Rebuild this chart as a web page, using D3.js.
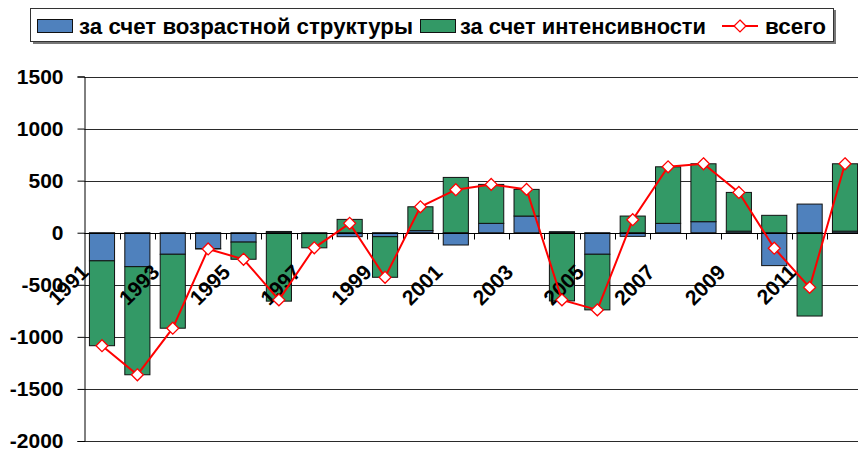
<!DOCTYPE html>
<html>
<head>
<meta charset="utf-8">
<script src="https://cdn.jsdelivr.net/npm/d3@7"></script>
<style>
body { margin: 0; background: #fff; }
text { font-family: "Liberation Sans", Arial, sans-serif; font-weight: bold; fill: #000; }
</style>
</head>
<body>
<svg id="chart" width="858" height="452"></svg>
<script>
var years = ["1991","1992","1993","1994","1995","1996","1997","1998","1999","2000","2001",
             "2002","2003","2004","2005","2006","2007","2008","2009","2010","2011","2012"];
// за счет возрастной структуры
var ageStruct = [-270, -326, -207, -153, -90, 12, -8, -38, -38, 20, -118,
                 90, 160, 10, -207, -35, 90, 106, 15, -316, 275, 15];
// за счет интенсивности
var intensity = [-815, -1038, -710, -3, -165, -657, -137, 128, -390, 229, 531,
                 374, 256, -655, -534, 160, 543, 556, 372, 167, -800, 647];
// всего
var total = [-1085, -1364, -917, -156, -255, -645, -145, 90, -428, 249, 413,
             464, 416, -645, -741, 125, 633, 662, 387, -149, -525, 662];
var yTicks = [-2000, -1500, -1000, -500, 0, 500, 1000, 1500];
var labelYears = ["1991","1993","1995","1997","1999","2001","2003","2005","2007","2009","2011"];

var seriesNames = ["за счет возрастной структуры", "за счет интенсивности", "всего"];
var colors = ["#4F81BD", "#339966", "#FF0000"];

var svg = d3.select("#chart");
var plotLeft = 84.3, plotRight = 862.7, plotTop = 76.5, plotBottom = 441;

var x = d3.scaleBand().domain(years).range([plotLeft, plotRight]).paddingInner(0.29).paddingOuter(0.145);
var y = d3.scaleLinear().domain([-2000, 1500]).range([plotBottom, plotTop]);

// gridlines
svg.append("g").selectAll("line").data(yTicks).enter().append("line")
    .attr("x1", plotLeft).attr("x2", 858)
    .attr("y1", function (d) { return Math.round(y(d)) + 0.5; })
    .attr("y2", function (d) { return Math.round(y(d)) + 0.5; })
    .style("stroke", "#2a2a2a").style("stroke-width", 1);

// y axis
var yAxis = svg.append("g").attr("transform", "translate(" + (Math.round(plotLeft) + 0.5) + ",0)")
    .call(d3.axisLeft(y).tickValues(yTicks).tickSize(7).tickPadding(14)
        .tickFormat(function (d) { return String(d); }));
yAxis.select(".domain").style("stroke", "#000");
yAxis.selectAll(".tick line").style("stroke", "#000");
yAxis.selectAll("text").style("font-size", "21px").style("font-family", "Liberation Sans, Arial, sans-serif")
    .style("font-weight", "bold").attr("fill", "#000");

// stacked bars
var rows = years.map(function (yr, i) { return { year: yr, a: ageStruct[i], b: intensity[i] }; });
var stack = d3.stack().keys(["a", "b"]).offset(d3.stackOffsetDiverging);
var layers = stack(rows);

svg.append("g").selectAll("g").data(layers).enter().append("g")
    .style("fill", function (d, i) { return colors[i]; })
    .selectAll("rect").data(function (d) { return d; }).enter().append("rect")
    .attr("x", function (d) { return x(d.data.year); })
    .attr("width", x.bandwidth())
    .attr("y", function (d) { return y(Math.max(d[0], d[1])); })
    .attr("height", function (d) { return Math.abs(y(d[0]) - y(d[1])); })
    .style("stroke", "#111").style("stroke-width", 1);

// x axis at zero
var y0 = Math.round(y(0)) + 0.5;
svg.append("line").attr("x1", plotLeft).attr("x2", 858).attr("y1", y0).attr("y2", y0)
    .style("stroke", "#000");
var step = x.step();
svg.append("g").selectAll("line").data(d3.range(1, years.length)).enter().append("line")
    .attr("x1", function (i) { return Math.round(plotLeft + i * step) + 0.5; })
    .attr("x2", function (i) { return Math.round(plotLeft + i * step) + 0.5; })
    .attr("y1", y0).attr("y2", y0 + 6)
    .style("stroke", "#000");

svg.append("g").selectAll("text").data(labelYears).enter().append("text")
    .attr("transform", function (d) {
        var cx = x(d) + x.bandwidth() / 2;
        return "translate(" + (cx - 12) + "," + (y0 + 40) + ") rotate(-45)";
    })
    .attr("text-anchor", "end")
    .style("font-size", "21px")
    .text(function (d) { return d; });

// total line
var line = d3.line()
    .x(function (d, i) { return x(years[i]) + x.bandwidth() / 2; })
    .y(function (d) { return y(d); });
svg.append("path").datum(total).attr("d", line)
    .style("fill", "none").style("stroke", colors[2]).style("stroke-width", 2);

var diamond = d3.symbol().type(d3.symbolDiamond2).size(90);
svg.append("g").selectAll("path").data(total).enter().append("path")
    .attr("d", diamond)
    .attr("transform", function (d, i) {
        return "translate(" + (x(years[i]) + x.bandwidth() / 2) + "," + y(d) + ")";
    })
    .style("fill", "#fff").style("stroke", colors[2]).style("stroke-width", 1.3);

// legend
var lg = svg.append("g");
lg.append("rect").attr("x", 33).attr("y", 10).attr("width", 803).attr("height", 34).style("fill", "#777");
lg.append("rect").attr("x", 30.5).attr("y", 8.5).attr("width", 803).attr("height", 33)
    .style("fill", "#fff").style("stroke", "#333");

var legendItems = [
    { name: seriesNames[0], kind: "bar", color: colors[0], sx: 37.5, tx: 79, tw: 334 },
    { name: seriesNames[1], kind: "bar", color: colors[1], sx: 420.5, tx: 460, tw: 246 },
    { name: seriesNames[2], kind: "line", color: colors[2], sx: 722, tx: 765, tw: 61 }
];
legendItems.forEach(function (it) {
    if (it.kind === "bar") {
        lg.append("rect").attr("x", it.sx).attr("y", 19.5).attr("width", 35).attr("height", 13)
            .style("fill", it.color).style("stroke", "#111");
    } else {
        lg.append("line").attr("x1", it.sx).attr("x2", it.sx + 36).attr("y1", 26).attr("y2", 26)
            .style("stroke", it.color).style("stroke-width", 2);
        lg.append("path").attr("d", diamond).attr("transform", "translate(" + (it.sx + 18) + ",26)")
            .style("fill", "#fff").style("stroke", it.color).style("stroke-width", 1.3);
    }
    lg.append("text").attr("x", it.tx).attr("y", 33.5)
        .attr("textLength", it.tw).attr("lengthAdjust", "spacingAndGlyphs")
        .style("font-size", "22px").text(it.name);
});
</script>
</body>
</html>
